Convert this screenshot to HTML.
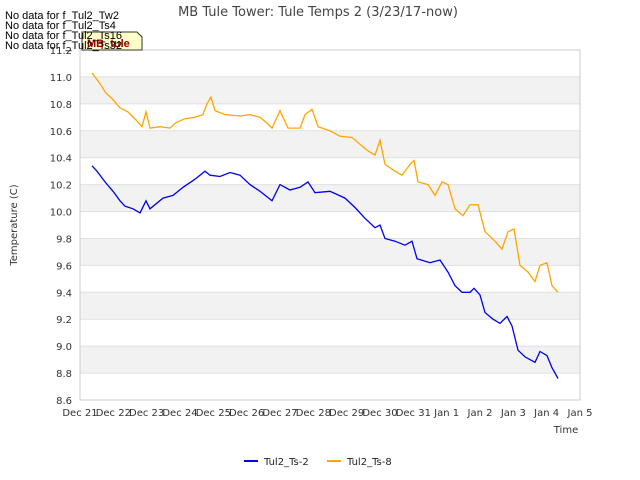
<!DOCTYPE html>
<html><head><meta charset="utf-8"><style>
body{margin:0;width:640px;height:480px;background:#fff;font-family:"DejaVu Sans","Liberation Sans",sans-serif;overflow:hidden}
svg{position:absolute;left:0;top:0}
</style></head><body>
<svg width="640" height="480">
<g id="bands"></g>
<g id="grid"></g>
<rect x="80" y="50" width="500" height="350" fill="none" stroke="#ccc"/>
<g id="yt"></g>
<g id="xt"></g>
<g id="series"></g>
<text x="318" y="16" text-anchor="middle" font-size="13" fill="#444">MB Tule Tower: Tule Temps 2 (3/23/17-now)</text>
<text x="566" y="433" text-anchor="middle" font-size="10" fill="#333">Time</text>
<text transform="translate(17,225) rotate(-90)" text-anchor="middle" font-size="10" fill="#333">Temperature (C)</text>
<g><line x1="244" y1="461" x2="258" y2="461" stroke="#0000ee" stroke-width="2"/><text x="264" y="465" font-size="10" fill="#222">Tul2_Ts-2</text></g>
<g><line x1="327" y1="461" x2="341" y2="461" stroke="orange" stroke-width="2"/><text x="347" y="465" font-size="10" fill="#222">Tul2_Ts-8</text></g>
<path d="M82,32 L137,32 L142,37 L142,50 L82,50 Z" fill="#ffffc8" stroke="#333"/>
<text x="87" y="47" font-size="11" font-weight="bold" fill="#a00000" font-family="Liberation Sans">MB_tule</text>
<g font-size="11" fill="#000" font-family="Liberation Sans">
<text x="5" y="19">No data for f_Tul2_Tw2</text>
<text x="5" y="29">No data for f_Tul2_Ts4</text>
<text x="5" y="39">No data for f_Tul2_Ts16</text>
<text x="5" y="49">No data for f_Tul2_Ts32</text>
</g>
</svg>
<script>
const xTickLabels=["Dec 21","Dec 22","Dec 23","Dec 24","Dec 25","Dec 26","Dec 27","Dec 28","Dec 29","Dec 30","Dec 31","Jan 1","Jan 2","Jan 3","Jan 4","Jan 5"];
const yTicks=[8.6,8.8,9.0,9.2,9.4,9.6,9.8,10.0,10.2,10.4,10.6,10.8,11.0,11.2];
// times in days since Dec 21 00:00
const ts2Days=[0.36,0.51,0.75,0.99,1.2,1.35,1.59,1.8,1.98,2.1,2.49,2.79,3.09,3.45,3.75,3.9,4.2,4.5,4.8,5.1,5.4,5.76,6.0,6.3,6.6,6.84,7.05,7.5,7.95,8.25,8.55,8.85,9.0,9.15,9.45,9.75,9.96,10.11,10.5,10.8,11.04,11.25,11.46,11.7,11.82,12.0,12.15,12.39,12.6,12.81,12.96,13.14,13.35,13.65,13.8,14.01,14.16,14.34];
const ts2Vals=[10.34,10.3,10.22,10.15,10.08,10.04,10.02,9.99,10.08,10.02,10.1,10.12,10.18,10.24,10.3,10.27,10.26,10.29,10.27,10.2,10.15,10.08,10.2,10.16,10.18,10.22,10.14,10.15,10.1,10.03,9.95,9.88,9.9,9.8,9.78,9.75,9.78,9.65,9.62,9.64,9.55,9.45,9.4,9.4,9.43,9.38,9.25,9.2,9.17,9.22,9.15,8.97,8.92,8.88,8.96,8.93,8.84,8.76];
const ts8Days=[0.36,0.6,0.78,0.96,1.2,1.44,1.68,1.86,1.98,2.1,2.4,2.7,2.88,3.15,3.45,3.69,3.81,3.93,4.05,4.35,4.8,5.1,5.4,5.64,5.76,6.0,6.24,6.6,6.75,6.96,7.14,7.5,7.8,8.16,8.4,8.64,8.85,9.0,9.15,9.45,9.66,9.9,10.02,10.14,10.44,10.65,10.86,11.04,11.25,11.49,11.7,11.94,12.15,12.45,12.66,12.84,13.02,13.2,13.44,13.65,13.8,14.01,14.16,14.34];
const ts8Vals=[11.03,10.95,10.88,10.84,10.77,10.74,10.68,10.63,10.74,10.62,10.63,10.62,10.66,10.69,10.7,10.72,10.8,10.85,10.75,10.72,10.71,10.72,10.7,10.65,10.62,10.75,10.62,10.62,10.72,10.76,10.63,10.6,10.56,10.55,10.5,10.45,10.42,10.53,10.35,10.3,10.27,10.35,10.38,10.22,10.2,10.12,10.22,10.2,10.02,9.97,10.05,10.05,9.85,9.78,9.72,9.85,9.87,9.6,9.55,9.48,9.6,9.62,9.45,9.4];
const NS="http://www.w3.org/2000/svg";
const X=d=>80+d*500/15, Y=v=>400-(v-8.6)*350/2.6;
function mk(t,a,p){const e=document.createElementNS(NS,t);for(const k in a)e.setAttribute(k,a[k]);p.appendChild(e);return e;}
const bands=document.getElementById('bands'),grid=document.getElementById('grid'),yt=document.getElementById('yt'),xt=document.getElementById('xt'),ser=document.getElementById('series');
for(let i=0;i<yTicks.length;i++){
  const v=yTicks[i];
  if(i%2===1&&i<yTicks.length-1){const r=mk('rect',{x:80,y:Y(v+0.2),width:500,height:Y(v)-Y(v+0.2),fill:'#f2f2f2'},bands);
  
  }
  const l=mk('line',{x1:80,x2:580,y1:Y(v),y2:Y(v),stroke:'#e0e0e0'},grid);
  
  
  const t=mk('text',{x:72,y:Y(v)+4,'text-anchor':'end','font-size':10,fill:'#333'},yt);t.textContent=v.toFixed(1);
  
  
}
xTickLabels.forEach((s,i)=>{
  const t=mk('text',{x:X(i),y:416,'text-anchor':'middle','font-size':10,fill:'#333'},xt);t.textContent=s;
  
  
});
function line(d,v,c,n){
  const p=mk('polyline',{points:d.map((x,i)=>X(x).toFixed(1)+','+Y(v[i]).toFixed(1)).join(' '),fill:'none',stroke:c,'stroke-width':1.3},ser);
  
  
}
line(ts2Days,ts2Vals,'#0000ee','line-tul2-ts2');
line(ts8Days,ts8Vals,'orange','line-tul2-ts8');
</script>
</body></html>
